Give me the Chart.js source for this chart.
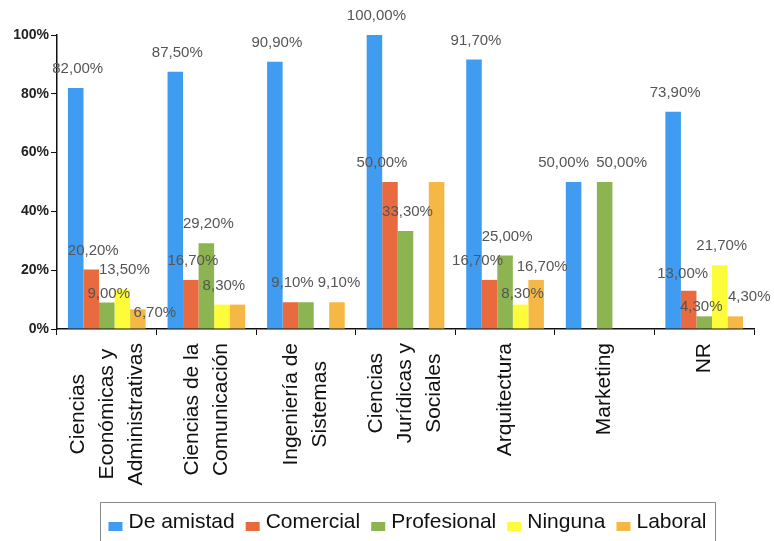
<!DOCTYPE html>
<html>
<head>
<meta charset="utf-8">
<script src="https://cdn.jsdelivr.net/npm/chart.js@4/dist/chart.umd.min.js"></script>
<style>
  html, body { margin: 0; padding: 0; background: #ffffff; }
  #wrap { width: 774px; height: 541px; position: relative; }
</style>
</head>
<body>
<div id="wrap"><canvas id="c" width="774" height="541"></canvas></div>
<script>
// ---- data ----
const categories = [
  ["Ciencias", "Económicas y", "Administrativas"],
  ["Ciencias de la", "Comunicación"],
  ["Ingeniería de", "Sistemas"],
  ["Ciencias", "Jurídicas y", "Sociales"],
  ["Arquitectura"],
  ["Marketing"],
  ["NR"]
];
const seriesNames = ["De amistad", "Comercial", "Profesional", "Ninguna", "Laboral"];
const deAmistad   = [82.0, 87.5, 90.9, 100.0, 91.7, 50.0, 73.9];
const comercial   = [20.2, 16.7, 9.1, 50.0, 16.7, 0, 13.0];
const profesional = [9.0, 29.2, 9.1, 33.3, 25.0, 50.0, 4.3];
const ninguna     = [13.5, 8.3, 0, 0, 8.3, 0, 21.7];
const laboral     = [6.7, 8.3, 9.1, 50.0, 16.7, 0, 4.3];
const yTicks = [0, 20, 40, 60, 80, 100];

// which value labels are shown (1 = shown)
const labelShown = [
  [1, 1, 1, 1, 1, 1, 1],
  [1, 1, 1, 1, 1, 0, 1],
  [1, 1, 0, 1, 1, 1, 1],
  [1, 1, 0, 0, 1, 0, 1],
  [1, 0, 1, 0, 1, 0, 1]
];

// ---- styling ----
const colors = ["#3f9cf0", "#ea6a40", "#8cb450", "#fdfc3a", "#f5b844"];
// label nudges [series][category] = [dx, dy]
const nudges = {
  "2,0": [0, 10], "4,0": [15, 23],
  "1,3": [-10, 0],
  "1,4": [-14, 0], "3,4": [0, 8], "4,4": [4, 6],
  "0,5": [-12, 0], "2,5": [15, 0],
  "1,6": [-8, 2], "2,6": [-5, 10], "4,6": [12, 0]
};

const seriesValues = [deAmistad, comercial, profesional, ninguna, laboral];

const fmt = v => v.toFixed(2).replace('.', ',') + '%';

const valueLabels = {
  id: 'valueLabels',
  afterDatasetsDraw(chart) {
    const ctx = chart.ctx;
    ctx.save();
    ctx.font = '15px "Liberation Sans", Arial, sans-serif';
    ctx.fillStyle = '#555555';
    ctx.textAlign = 'center';
    ctx.textBaseline = 'middle';
    chart.data.datasets.forEach((ds, si) => {
      const meta = chart.getDatasetMeta(si);
      meta.data.forEach((bar, ci) => {
        const v = ds.data[ci];
        if (!v || !labelShown[si][ci]) return;
        const n = nudges[si + ',' + ci] || [0, 0];
        ctx.fillText(fmt(v), bar.x + 2 + n[0], bar.y - 19 + n[1]);
      });
    });
    ctx.restore();
  }
};

const xLabelsAndLegend = {
  id: 'xLabelsAndLegend',
  afterDraw(chart) {
    const ctx = chart.ctx;
    const xs = chart.scales.x;
    const axisY = chart.chartArea.bottom;
    ctx.save();
    // category labels, rotated
    ctx.font = '21px "Liberation Sans", Arial, sans-serif';
    ctx.fillStyle = '#111111';
    ctx.textAlign = 'center';
    ctx.textBaseline = 'middle';
    const lineGap = 29;
    categories.forEach((lines, i) => {
      const cx = xs.getPixelForTick(i);
      const maxW = Math.max(...lines.map(l => ctx.measureText(l).width));
      const cy = axisY + 14 + maxW / 2;
      lines.forEach((line, li) => {
        const lx = cx + (li - (lines.length - 1) / 2) * lineGap;
        ctx.save();
        ctx.translate(lx, cy);
        ctx.rotate(-Math.PI / 2);
        ctx.fillText(line, 0, 0);
        ctx.restore();
      });
    });
    // legend
    const boxL = 100, boxR = 715, boxT = 502.5;
    ctx.strokeStyle = '#8a8a8a';
    ctx.lineWidth = 1;
    ctx.strokeRect(boxL + 0.5, boxT, boxR - boxL, 60);
    ctx.font = '21px "Liberation Sans", Arial, sans-serif';
    ctx.textAlign = 'left';
    ctx.textBaseline = 'alphabetic';
    const sq = 14, sqGap = 6, itemGap = 11;
    const widths = seriesNames.map(n => sq + sqGap + ctx.measureText(n).width);
    const total = widths.reduce((a, b) => a + b, 0) + itemGap * (seriesNames.length - 1);
    let x = (boxL + boxR) / 2 - total / 2;
    seriesNames.forEach((name, i) => {
      ctx.fillStyle = colors[i];
      ctx.fillRect(x, 522, sq, 9);
      ctx.fillStyle = '#111111';
      ctx.fillText(name, x + sq + sqGap, 528);
      x += widths[i] + itemGap;
    });
    ctx.restore();
  }
};

new Chart(document.getElementById('c'), {
  type: 'bar',
  data: {
    labels: categories.map(c => c.join(' ')),
    datasets: seriesNames.map((name, i) => ({
      label: name,
      data: seriesValues[i],
      backgroundColor: colors[i],
      borderWidth: 0,
      categoryPercentage: 0.78,
      barPercentage: 1.0
    }))
  },
  options: {
    responsive: false,
    animation: false,
    devicePixelRatio: 1,
    layout: { padding: { top: 35, right: 20, left: 0, bottom: 0 } },
    plugins: {
      legend: { display: false },
      tooltip: { enabled: false },
      title: { display: false }
    },
    scales: {
      x: {
        grid: { display: true, drawOnChartArea: false, drawTicks: true, tickLength: 6, color: '#111', lineWidth: 1, offset: true },
        border: { display: true, color: '#111', width: 1.5 },
        ticks: { display: false },
        afterFit(scale) { scale.height = 212; }
      },
      y: {
        min: 0, max: 100,
        afterBuildTicks(scale) { scale.ticks = yTicks.map(v => ({ value: v })); },
        afterFit(scale) { scale.width = 57; },
        grid: { display: true, drawOnChartArea: false, drawTicks: true, tickLength: 6, color: '#111', lineWidth: 1 },
        border: { display: true, color: '#111', width: 1.5 },
        ticks: {
          padding: 2,
          color: '#222',
          font: { family: '"Liberation Sans", Arial, sans-serif', size: 14, weight: 'bold' },
          callback: v => v + '%'
        }
      }
    }
  },
  plugins: [valueLabels, xLabelsAndLegend]
});
</script>
</body>
</html>
